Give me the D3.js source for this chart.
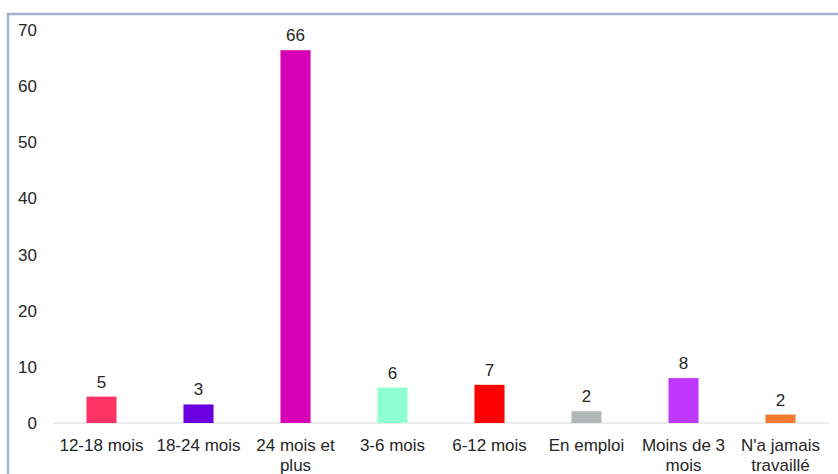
<!DOCTYPE html>
<html>
<head>
    <script src="https://cdnjs.cloudflare.com/ajax/libs/d3/7.8.5/d3.min.js"></script>
    <style>
        body { margin: 0; background: #fff; }
        text { font-family: "Liberation Sans", Arial, sans-serif; fill: #262626; }
    </style>
</head>
<body>
    <script>
        var categories = ["12-18 mois", "18-24 mois", "24 mois et plus", "3-6 mois", "6-12 mois", "En emploi", "Moins de 3 mois", "N'a jamais travaillé"];
        var labelLines = [["12-18 mois"], ["18-24 mois"], ["24 mois et", "plus"], ["3-6 mois"], ["6-12 mois"], ["En emploi"], ["Moins de 3", "mois"], ["N'a jamais", "travaillé"]];
        var values = [4.7, 3.3, 66.4, 6.3, 6.8, 2.1, 8.0, 1.5];
        var colors = ["#ff3366", "#6a00e0", "#d600b4", "#8effd0", "#ff0000", "#b0b8b8", "#c038ff", "#f47a30"];
        var yTicks = [0, 10, 20, 30, 40, 50, 60, 70];

        var width = 838, height = 474;

        var svg = d3.select("body").append("svg")
            .attr("width", width)
            .attr("height", height);

        // frame
        svg.append("path")
            .attr("d", "M8,474 V14 H838")
            .attr("fill", "none")
            .attr("stroke", "#a3b3cf")
            .attr("stroke-width", 2.5);

        var x = d3.scaleBand()
            .domain(categories)
            .range([53, 829])
            .paddingInner(0.69)
            .paddingOuter(0.345);

        var y = d3.scaleLinear()
            .domain([0, 70])
            .range([423, 30]);

        // y tick labels
        svg.append("g").selectAll("text")
            .data(yTicks)
            .enter().append("text")
            .attr("x", 37)
            .attr("y", function(d) { return y(d); })
            .attr("dy", "0.35em")
            .attr("text-anchor", "end")
            .style("font-size", "17px")
            .text(function(d) { return d; });

        // baseline
        svg.append("line")
            .attr("x1", 53).attr("x2", 829)
            .attr("y1", y(0)).attr("y2", y(0))
            .attr("stroke", "#d9d9d9")
            .attr("stroke-width", 1);

        svg.append("g").selectAll("rect")
            .data(values)
            .enter().append("rect")
            .attr("x", function(d, i) { return x(categories[i]); })
            .attr("width", x.bandwidth())
            .attr("y", function(d) { return y(d); })
            .attr("height", function(d) { return y(0) - y(d); })
            .attr("fill", function(d, i) { return colors[i]; });

        svg.append("g").selectAll("text")
            .data(values)
            .enter().append("text")
            .attr("x", function(d, i) { return x(categories[i]) + x.bandwidth() / 2; })
            .attr("y", function(d) { return y(d) - 9; })
            .attr("text-anchor", "middle")
            .style("font-size", "17px")
            .text(function(d) { return Math.round(d); });

        var cat = svg.append("g").selectAll("text")
            .data(categories)
            .enter().append("text")
            .attr("x", function(d) { return x(d) + x.bandwidth() / 2; })
            .attr("y", 451)
            .attr("text-anchor", "middle")
            .style("font-size", "17px");

        cat.each(function(d, i) {
            var t = d3.select(this);
            labelLines[i].forEach(function(line, j) {
                t.append("tspan")
                    .attr("x", x(d) + x.bandwidth() / 2)
                    .attr("dy", j === 0 ? 0 : 20)
                    .text(line);
            });
        });
    </script>
</body>
</html>
